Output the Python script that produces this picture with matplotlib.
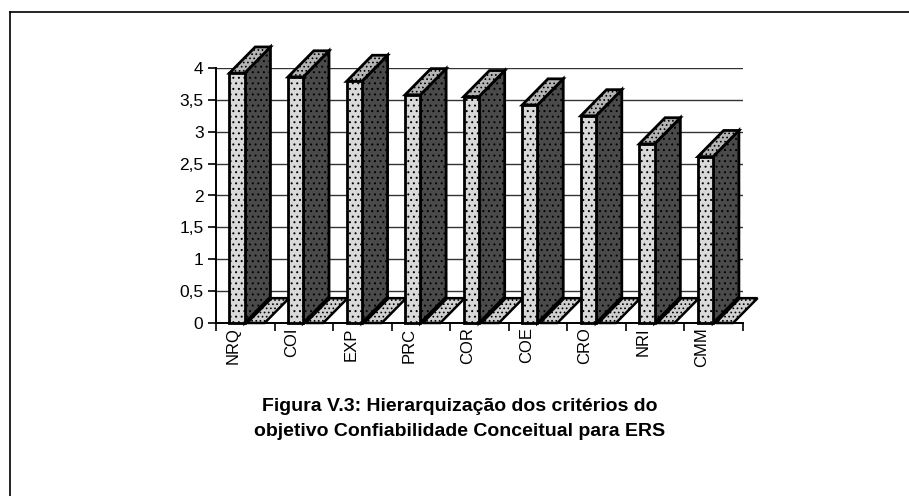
import matplotlib
matplotlib.use('Agg')
import matplotlib.pyplot as plt
from matplotlib.patches import Polygon

plt.rcParams['font.family'] = ['Liberation Sans', 'DejaVu Sans']
plt.rcParams['hatch.linewidth'] = 0.7

# criteria and their scores
criterios = ['NRQ', 'COI', 'EXP', 'PRC', 'COR', 'COE', 'CRO', 'NRI', 'CMM']
valores = [3.92, 3.86, 3.79, 3.58, 3.55, 3.42, 3.25, 2.81, 2.61]
yticks = [0, 0.5, 1, 1.5, 2, 2.5, 3, 3.5, 4]
ylabels = ['0', '0,5', '1', '1,5', '2', '2,5', '3', '3,5', '4']
legenda = 'Figura V.3: Hierarquização dos critérios do\nobjetivo Confiabilidade Conceitual para ERS'

fig = plt.figure(figsize=(9.09, 4.96), dpi=100)
ax = fig.add_axes([216/909, 173/496, 527/909, 255/496])
ax.set_xlim(-0.5, len(criterios) - 0.5)
ax.set_ylim(0, 4)

# 3d look: front face width and depth offset
w = 0.26
dx = 0.44
dy = 0.41

for i, v in enumerate(criterios):
    h = valores[i]
    x0 = i - 0.27
    x1 = x0 + w
    # floor tile beside the bar
    ax.add_patch(Polygon([(x1 + 0.04, 0), (x1 + 0.34, 0), (x1 + 0.34 + dx * 0.95, dy * 0.95),
                          (x1 + 0.04 + dx * 0.95, dy * 0.95)], closed=True,
                         facecolor='#cfcfcf', edgecolor='black', lw=1.8, hatch='....',
                         clip_on=False, zorder=3))
    # side face
    ax.add_patch(Polygon([(x1, 0), (x1 + dx, dy), (x1 + dx, h + dy), (x1, h)], closed=True,
                         facecolor='#4a4a4a', edgecolor='black', lw=2.0, hatch='...',
                         clip_on=False, zorder=4))
    # top face
    ax.add_patch(Polygon([(x0, h), (x1, h), (x1 + dx, h + dy), (x0 + dx, h + dy)], closed=True,
                         facecolor='#b5b5b5', edgecolor='black', lw=2.0, hatch='....',
                         clip_on=False, zorder=4))
    # front face
    ax.add_patch(Polygon([(x0, 0), (x1, 0), (x1, h), (x0, h)], closed=True,
                         facecolor='#d9d9d9', edgecolor='black', lw=2.0, hatch='...',
                         clip_on=False, zorder=5))

ax.set_yticks(yticks)
ax.set_yticklabels(ylabels, fontsize=12.5)
ax.set_xticks([i - 0.5 for i in range(len(criterios) + 1)])
ax.set_xticklabels([])
ax.tick_params(axis='both', direction='out', length=6, width=1.2, color='black', pad=3)
ax.yaxis.grid(True, color='#333333', lw=1.0, zorder=0)
ax.set_axisbelow(True)
for s in ['top', 'right']:
    ax.spines[s].set_visible(False)
ax.spines['left'].set_linewidth(1.4)
ax.spines['bottom'].set_linewidth(1.4)

for i, c in enumerate(criterios):
    ax.text(i - 0.2, -0.07, c, rotation=90, ha='center', va='top', fontsize=12)

fig.text(460/909, 1 - 419/496, legenda, ha='center', va='center', fontsize=14,
         fontweight='bold', linespacing=1.55)

# outer frame (only top and left edges visible)
fig.add_artist(plt.Line2D([10/909, 10/909], [0, 1 - 12/496], color='black', lw=1.2))
fig.add_artist(plt.Line2D([10/909, 1], [1 - 12/496, 1 - 12/496], color='black', lw=1.2))

fig.savefig('out.png', dpi=100)
